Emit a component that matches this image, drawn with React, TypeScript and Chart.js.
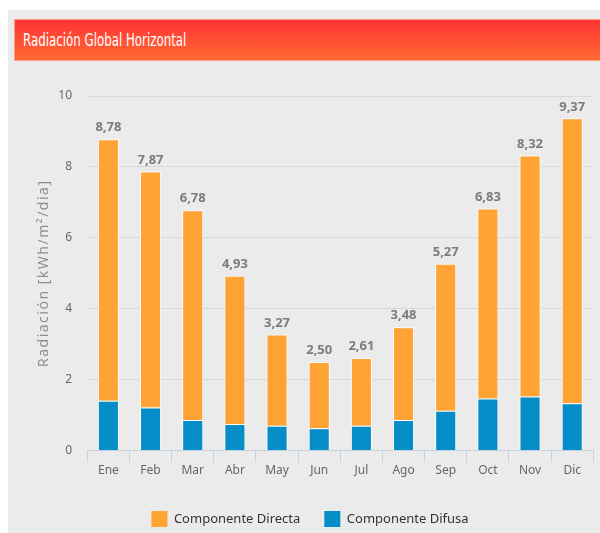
import React, { useEffect, useRef } from 'react';
import { Chart, registerables } from 'chart.js';

Chart.register(...registerables);

const months = ['Ene', 'Feb', 'Mar', 'Abr', 'May', 'Jun', 'Jul', 'Ago', 'Sep', 'Oct', 'Nov', 'Dic'];
const totals = [8.78, 7.87, 6.78, 4.93, 3.27, 2.5, 2.61, 3.48, 5.27, 6.83, 8.32, 9.37];
const directa = [7.38, 6.66, 5.92, 4.18, 2.57, 1.87, 1.91, 2.62, 4.15, 5.36, 6.8, 8.04];
const difusa = [1.4, 1.21, 0.86, 0.75, 0.7, 0.63, 0.7, 0.86, 1.12, 1.47, 1.52, 1.33];
const yMin = 0;
const yMax = 10;
const yStep = 2;

const titleText = 'Radiación Global Horizontal';
const yTitle = 'Radiación [kWh/m²/dia]';
const labelDirecta = 'Componente Directa';
const labelDifusa = 'Componente Difusa';

const FONT = '"Noto Sans", "Open Sans", sans-serif';

const totalsPlugin = {
  id: 'totals',
  afterDatasetsDraw(chart: any) {
    const ctx = chart.ctx;
    const meta = chart.getDatasetMeta(1);
    ctx.save();
    ctx.font = `bold 13px ${FONT}`;
    ctx.fillStyle = '#7c7c7c';
    ctx.textAlign = 'center';
    ctx.textBaseline = 'bottom';
    meta.data.forEach((bar: any, i: number) => {
      ctx.fillText(totals[i].toFixed(2).replace('.', ','), bar.x, bar.y - 5);
    });
    ctx.restore();
  },
};

const yTitlePlugin = {
  id: 'ytitle',
  afterDraw(chart: any) {
    const ctx = chart.ctx;
    const area = chart.chartArea;
    ctx.save();
    ctx.translate(36, (area.top + area.bottom) / 2);
    ctx.rotate(-Math.PI / 2);
    ctx.font = `14px ${FONT}`;
    (ctx as any).letterSpacing = '1.5px';
    ctx.fillStyle = '#8f8f8f';
    ctx.textAlign = 'center';
    ctx.textBaseline = 'middle';
    ctx.fillText(yTitle, 0, 0);
    ctx.restore();
  },
};

function ChartCanvas() {
  const ref = useRef<HTMLCanvasElement | null>(null);
  useEffect(() => {
    if (!ref.current) return;
    const padLeft = 18.7;
    const chart = new Chart(ref.current, {
      type: 'bar',
      data: {
        labels: months,
        datasets: [
          {
            label: labelDifusa,
            data: difusa,
            backgroundColor: '#058DC7',
            borderColor: '#ffffff',
            borderWidth: 1,
            barPercentage: 0.5,
            categoryPercentage: 1,
          },
          {
            label: labelDirecta,
            data: directa,
            backgroundColor: '#FFA334',
            borderColor: '#ffffff',
            borderWidth: 1,
            barPercentage: 0.5,
            categoryPercentage: 1,
          },
        ],
      },
      options: {
        responsive: false,
        animation: false,
        devicePixelRatio: 1,
        layout: { padding: { left: padLeft, right: 6.7, top: 26, bottom: 0 } },
        plugins: {
          tooltip: { enabled: false },
          legend: {
            position: 'bottom',
            reverse: true,
            labels: {
              boxWidth: 16,
              boxHeight: 16,
              padding: 24,
              color: '#333333',
              font: { size: 13, family: FONT },
              generateLabels: (c: any) =>
                (Chart.defaults.plugins.legend.labels as any)
                  .generateLabels(c)
                  .map((l: any) => ({ ...l, lineWidth: 0, strokeStyle: 'rgba(0,0,0,0)' })),
            },
          },
        },
        scales: {
          x: {
            stacked: true,
            afterFit: (s: any) => {
              s.height = 36.5;
            },
            grid: {
              offset: true,
              drawOnChartArea: false,
              drawTicks: true,
              tickLength: 12,
              color: '#c4d2e0',
            },
            border: { display: true, color: '#c4d2e0' },
            ticks: {
              padding: 1,
              color: '#666666',
              font: { size: 12, family: FONT },
            },
          },
          y: {
            stacked: true,
            min: yMin,
            max: yMax,
            afterFit: (s: any) => {
              s.width = 79.3 - padLeft;
            },
            grid: { color: '#d8d8d8', drawTicks: false },
            border: { display: false },
            ticks: {
              stepSize: yStep,
              padding: 15.3,
              color: '#666666',
              font: { size: 12, family: FONT },
            },
          },
        },
      },
      plugins: [totalsPlugin, yTitlePlugin],
    } as any);
    return () => chart.destroy();
  }, []);
  return (
    <canvas
      ref={ref}
      width={592}
      height={467}
      style={{ position: 'absolute', left: 0, top: 60, width: 592, height: 467 }}
    />
  );
}

export default function App() {
  return (
    <div
      style={{
        position: 'fixed',
        left: 8,
        top: 10,
        width: 592,
        height: 523,
        background: '#ebebeb',
        overflow: 'hidden',
      }}
    >
      <div
        style={{
          position: 'absolute',
          left: 6,
          top: 9,
          right: -2,
          height: 40,
          border: '1px solid #ff9d88',
          background: 'linear-gradient(#ff3434, #ff6a33)',
          color: '#ffffff',
          fontFamily: '"Liberation Sans Narrow", "DejaVu Sans Condensed", sans-serif',
          fontSize: 18,
          lineHeight: '40px',
          paddingLeft: 8,
          boxSizing: 'content-box',
          whiteSpace: 'nowrap',
        }}
      >
        <span
          style={{
            display: 'inline-block',
            transform: 'scaleX(0.73)',
            transformOrigin: 'left center',
          }}
        >
          {titleText}
        </span>
      </div>
      <ChartCanvas />
    </div>
  );
}
